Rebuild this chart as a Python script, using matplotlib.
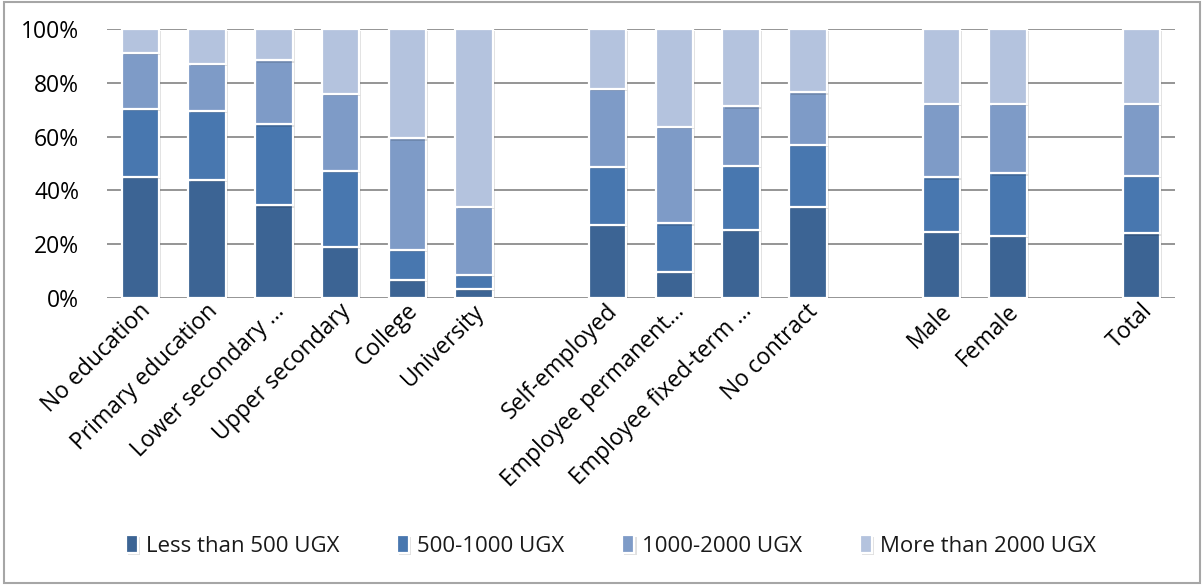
import matplotlib
matplotlib.use("Agg")
import matplotlib.pyplot as plt
import matplotlib.patheffects as pe
import matplotlib.transforms as mtransforms
from matplotlib.patches import Rectangle

# ---- data: share of respondents by hourly earnings band (%) -----------------
education = ["No education", "Primary education", "Lower secondary ...",
             "Upper secondary", "College", "University"]
employment = ["Self-employed", "Employee permanent...",
              "Employee fixed-term ...", "No contract"]
gender = ["Male", "Female"]
overall = ["Total"]

bands = ["Less than 500 UGX", "500-1000 UGX", "1000-2000 UGX",
         "More than 2000 UGX"]

less_500 = [45.1, 43.9, 34.4, 19.0, 6.6, 3.4,
            27.2, 9.6, 25.2, 33.9,
            24.7, 23.0,
            24.0]
b500_1000 = [25.1, 25.8, 30.1, 28.3, 11.4, 5.0,
             21.6, 18.1, 23.9, 23.0,
             20.1, 23.3,
             21.3]
b1000_2000 = [20.9, 17.3, 23.8, 28.6, 41.3, 25.5,
              29.0, 36.0, 22.1, 19.5,
              27.4, 25.9,
              26.9]
more_2000 = [8.9, 13.0, 11.7, 24.1, 40.7, 66.1,
             22.2, 36.3, 28.8, 23.6,
             27.8, 27.8,
             27.8]

# ---- styling ----------------------------------------------------------------
plt.rcParams.update({
    "font.family": ["Open Sans", "DejaVu Sans"],
    "font.size": 16,
    "text.color": "#1a1a1a",
})
COLORS = ["#3c6494", "#4877af", "#7e9bc7", "#b4c3de"]
GRID = "#8c8c8c"

# one empty slot between groups
groups = [education, employment, gender, overall]
labels, xpos = [], []
slot = 0
for g in groups:
    for name in g:
        labels.append(name)
        xpos.append(slot)
        slot += 1
    slot += 1
n_slots = slot - 1

fig = plt.figure(figsize=(12.04, 5.85), dpi=100)
ax = fig.add_axes([107 / 1204, 1 - 298 / 585, 1068 / 1204, 269 / 585])

series = [less_500, b500_1000, b1000_2000, more_2000]
bottom = [0.0] * len(labels)
shadow = [pe.SimplePatchShadow(offset=(1.5, -1.5), shadow_rgbFace="#000000",
                               alpha=0.12), pe.Normal()]
for vals, color, name in zip(series, COLORS, bands):
    bars = ax.bar(xpos, vals, width=0.56, bottom=bottom, color=color,
                  edgecolor="white", linewidth=1.6, label=name, zorder=3)
    for b in bars:
        b.set_path_effects(shadow)
    bottom = [b0 + v for b0, v in zip(bottom, vals)]

ax.set_xlim(-0.5, n_slots - 0.5)
ax.set_ylim(0, 100)
ax.set_yticks(range(0, 101, 20))
ax.set_yticklabels([f"{v}%" for v in range(0, 101, 20)])
ax.yaxis.grid(True, color=GRID, linewidth=1.3, zorder=0)
ax.set_axisbelow(True)
for s in ax.spines.values():
    s.set_visible(False)
ax.tick_params(axis="y", length=0, pad=20, labelsize=16.5)
ax.tick_params(axis="x", length=0, pad=7, labelsize=16.5)
ax.set_xticks(xpos)
ax.set_xticklabels(labels, rotation=45, ha="right", va="center",
                   rotation_mode="anchor")
# nudge the slanted labels a little to the right
nudge = mtransforms.ScaledTranslation(5 / 72, 0, fig.dpi_scale_trans)
for lab in ax.get_xticklabels():
    lab.set_transform(lab.get_transform() + nudge)

leg = fig.legend(loc="center", bbox_to_anchor=(611 / 1204, 1 - 546 / 585),
                 ncol=4, frameon=False, fontsize=16, handlelength=0.55,
                 handleheight=0.85, handletextpad=0.35, columnspacing=2.6)

# thin outer frame
fig.patches.append(Rectangle((4 / 1204, 2 / 585), 1196 / 1204, 581 / 585,
                             transform=fig.transFigure, fill=False,
                             edgecolor="#a6a6a6", linewidth=1.5))

fig.savefig("out.png", dpi=100)
